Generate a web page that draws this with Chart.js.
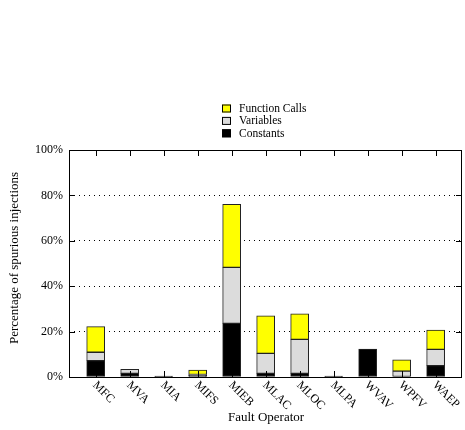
<!DOCTYPE html>
<html>
<head>
<meta charset="utf-8">
<script src="https://cdn.jsdelivr.net/npm/chart.js@4/dist/chart.umd.min.js"></script>
<style>
  html, body { margin: 0; padding: 0; background: #fff; }
  #wrap { width: 465px; height: 430px; }
</style>
</head>
<body>
<div id="wrap"><canvas id="c" width="465" height="430"></canvas></div>
<script>
// Fault operators along the x axis
const operators = ['MFC', 'MVA', 'MIA', 'MIFS', 'MIEB', 'MLAC', 'MLOC', 'MLPA', 'WVAV', 'WPFV', 'WAEP'];

// Share of spurious injections (%) per operator, split by target kind
const constants     = [7.2, 1.6, 0.4, 0.6, 23.6, 1.6, 1.6, 0.4, 12.3, 0,   5.0];
const variables     = [3.7, 1.8, 0,   0.5, 24.7, 8.8, 15.0, 0,  0,    2.6, 7.2];
const functionCalls = [11.3, 0,  0,   1.9, 27.8, 16.5, 11.2, 0, 0,    5.0, 8.5];

const yTicks = [0, 20, 40, 60, 80, 100];

const FONT = '"Liberation Serif", "DejaVu Serif", serif';

const toPoints = arr => arr.map((v, i) => ({ x: i, y: v > 0 ? v : null }));

const series = [
  { label: 'Constants', data: constants, color: '#000000' },
  { label: 'Variables', data: variables, color: '#dcdcdc' },
  { label: 'Function Calls', data: functionCalls, color: '#ffff00' }
];

// Frame, inward ticks, slanted category labels, axis titles and key
const decorations = {
  id: 'decorations',
  afterDatasetsDraw(chart) {
    const { ctx, chartArea: a, scales: { x, y } } = chart;
    ctx.save();
    ctx.strokeStyle = '#000';
    ctx.lineWidth = 1;
    ctx.strokeRect(a.left + 0.5, a.top + 0.5, a.right - a.left - 1, a.bottom - a.top);

    // inward tick marks
    ctx.beginPath();
    operators.forEach((_, i) => {
      const px = Math.round(x.getPixelForValue(i)) + 0.5;
      ctx.moveTo(px, a.top); ctx.lineTo(px, a.top + 6);
      ctx.moveTo(px, a.bottom); ctx.lineTo(px, a.bottom - 6);
    });
    yTicks.forEach(v => {
      const py = Math.round(y.getPixelForValue(v)) + 0.5;
      ctx.moveTo(a.left, py); ctx.lineTo(a.left + 6, py);
      ctx.moveTo(a.right, py); ctx.lineTo(a.right - 6, py);
    });
    ctx.stroke();

    // category labels, slanted down to the right
    ctx.fillStyle = '#000';
    ctx.font = '12px ' + FONT;
    ctx.textAlign = 'left';
    ctx.textBaseline = 'top';
    operators.forEach((name, i) => {
      const px = x.getPixelForValue(i);
      ctx.save();
      ctx.translate(px + 3, a.bottom + 2);
      ctx.rotate(Math.PI / 4);
      ctx.fillText(name, 0, 0);
      ctx.restore();
    });

    // axis titles
    ctx.font = '13px ' + FONT;
    ctx.textAlign = 'center';
    ctx.textBaseline = 'middle';
    ctx.fillText('Fault Operator', 266, 418);
    ctx.save();
    ctx.translate(15, 258);
    ctx.rotate(-Math.PI / 2);
    ctx.fillText('Percentage of spurious injections', 0, 0);
    ctx.restore();

    // key
    ctx.font = '11.5px ' + FONT;
    ctx.textAlign = 'left';
    const keyRows = [series[2], series[1], series[0]];
    keyRows.forEach((s, k) => {
      const cy = 108.5 + k * 12.4;
      ctx.fillStyle = s.color;
      ctx.fillRect(222, cy - 4, 9, 8);
      ctx.strokeStyle = '#000';
      ctx.strokeRect(222.5, cy - 3.5, 8, 7);
      ctx.fillStyle = '#000';
      ctx.fillText(s.label, 239, cy + 0.5);
    });
    ctx.restore();
  }
};

new Chart(document.getElementById('c'), {
  type: 'bar',
  data: {
    datasets: series.map(s => ({
      label: s.label,
      data: toPoints(s.data),
      backgroundColor: s.color,
      borderColor: '#222',
      borderWidth: 1,
      borderSkipped: false,
      barThickness: 18
    }))
  },
  options: {
    responsive: false,
    animation: false,
    devicePixelRatio: 1,
    layout: { padding: { top: 150, right: 3, left: 0, bottom: 0 } },
    plugins: { legend: { display: false }, tooltip: { enabled: false } },
    scales: {
      x: {
        type: 'linear',
        stacked: true,
        min: -0.785,
        max: 10.775,
        offset: false,
        grid: { display: false },
        border: { display: false },
        ticks: { display: false },
        afterFit: s => { s.height = 53; }
      },
      y: {
        stacked: true,
        min: 0,
        max: 100,
        border: { display: false, dash: [1, 4] },
        grid: {
          drawTicks: false,
          color: c => (c.tick && (c.tick.value === 0 || c.tick.value === 100)) ? 'rgba(0,0,0,0)' : '#000',
          lineWidth: 1
        },
        ticks: {
          stepSize: 20,
          padding: 6,
          color: '#000',
          font: { family: FONT, size: 12 },
          callback: v => v + '%'
        },
        afterFit: s => { s.width = 69; }
      }
    }
  },
  plugins: [decorations]
});
</script>
</body>
</html>
